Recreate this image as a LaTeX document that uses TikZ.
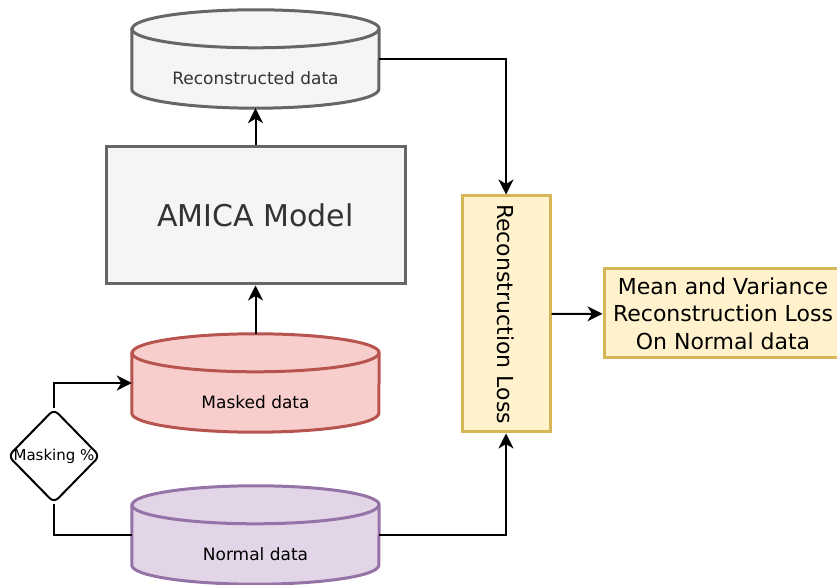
\documentclass[tikz,border=0pt]{standalone}
\usepackage{fontspec}
\setmainfont{DejaVu Sans}
\usetikzlibrary{arrows.meta}
\usetikzlibrary{shapes.geometric}
\usetikzlibrary{backgrounds}

\definecolor{grayfill}{HTML}{F5F5F5}
\definecolor{graydraw}{HTML}{666666}
\definecolor{graytext}{HTML}{333333}
\definecolor{redfill}{HTML}{F8CECC}
\definecolor{reddraw}{HTML}{B85450}
\definecolor{purplefill}{HTML}{E1D5E7}
\definecolor{purpledraw}{HTML}{9673A6}
\definecolor{yellowfill}{HTML}{FFF2CC}
\definecolor{yellowdraw}{HTML}{D6B656}

\tikzset{
  drumnode/.style={minimum width=247pt, minimum height=60pt, inner sep=0pt,
    font=\fontsize{17}{20}\selectfont},
  box/.style={draw, line width=3pt, inner sep=0pt},
  arr/.style={line width=2pt, -{Stealth[length=15pt,width=15pt,inset=4.5pt]}},
  plain/.style={line width=2pt}
}

% cylinder drawn behind a body node
\newcommand{\drum}[3]{%
  \begin{scope}[on background layer]
    \filldraw[line width=3pt, draw=#2, fill=#3] ([yshift=19pt]#1.north west)
      -- ([yshift=19pt]#1.south west)
      arc[start angle=180, end angle=360, x radius=123.5pt, y radius=19pt]
      -- ([yshift=19pt]#1.north east)
      arc[start angle=0, end angle=180, x radius=123.5pt, y radius=19pt] -- cycle;
    \draw[line width=3pt, draw=#2] ([yshift=19pt]#1.north west)
      arc[start angle=180, end angle=360, x radius=123.5pt, y radius=19pt];
  \end{scope}}

\begin{document}
\begin{tikzpicture}[x=1pt, y=1pt]
  \useasboundingbox (0,0) rectangle (837,585);
  \clip (0,0) rectangle (837,585);

  \node[drumnode, text=graytext] (recon) at (255.5,507) {Reconstructed data};
  \drum{recon}{graydraw}{grayfill}
  \node[box, draw=graydraw, fill=grayfill, text=graytext, minimum width=299pt,
    minimum height=137pt, font=\fontsize{30}{36}\selectfont] (amica) at (255.5,369.5) {AMICA Model};
  \node[drumnode] (masked) at (255.5,183) {Masked data};
  \drum{masked}{reddraw}{redfill}
  \node[drumnode] (normal) at (255.5,31) {Normal data};
  \drum{normal}{purpledraw}{purplefill}

  \node[draw, diamond, line width=2pt, rounded corners=6pt, inner sep=0pt,
    minimum width=92pt, minimum height=94pt, font=\fontsize{15}{18}\selectfont]
    (mask) at (54,129) {\makebox[0pt]{Masking \%}};

  \node[box, draw=yellowdraw, fill=yellowfill, minimum width=88pt, minimum height=236pt,
    font=\fontsize{22}{27.5}\selectfont] (rloss) at (506,271)
    {\rotatebox{-90}{Reconstruction Loss}};
  \node[box, draw=yellowdraw, fill=yellowfill, minimum width=238pt, minimum height=89pt,
    align=center, font=\fontsize{22}{27.5}\selectfont] (mean) at (723,271.5)
    {Mean and Variance\\Reconstruction Loss\\On Normal data};

  \draw[arr] (amica.north) -- (recon.south);
  \draw[arr] ([yshift=38pt]masked.north) -- (amica.south);
  \draw[arr] ([yshift=19pt]recon.east) -| (rloss.north);
  \draw[arr] ([yshift=19pt]normal.east) -| (rloss.south);
  \draw[arr] (rloss) -- (mean);
  \draw[arr] (mask.north) |- ([yshift=19pt]masked.west);
  \draw[plain] (mask.south) |- ([yshift=19pt]normal.west);
\end{tikzpicture}
\end{document}
